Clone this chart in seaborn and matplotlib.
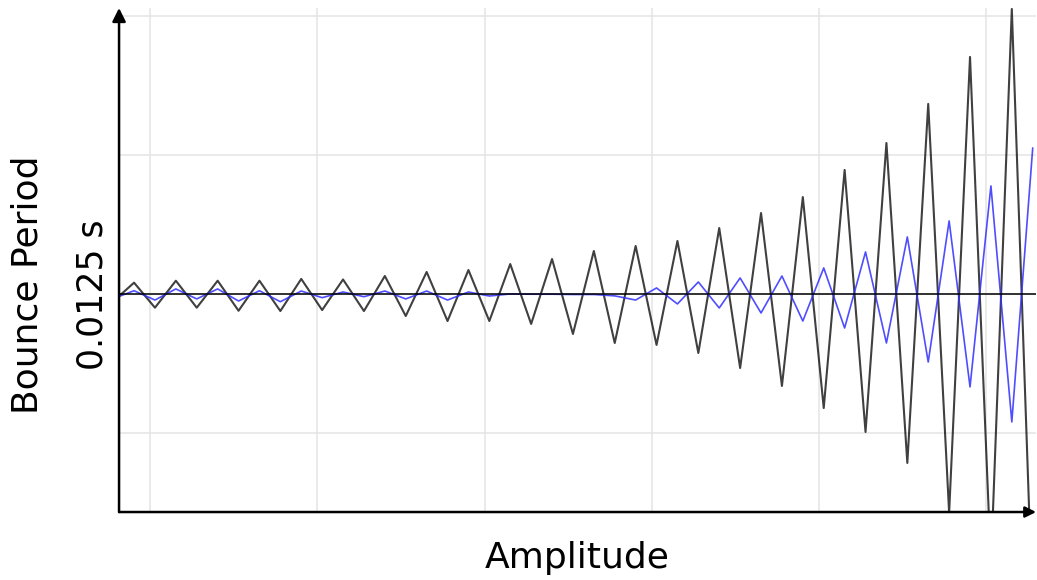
import numpy as np
import pandas as pd
import matplotlib
matplotlib.use("Agg")
import matplotlib.pyplot as plt
import seaborn as sns

# Turning points of the two oscillating traces (one value per half swing)
swing_index = list(range(-1, 44))
period_total = [
    -0.05, 0.085, -0.095, 0.099, -0.095, 0.099, -0.117, 0.099, -0.119, 0.112,
    -0.112, 0.108, -0.119, 0.133, -0.155, 0.162, -0.191, 0.176, -0.191, 0.219,
    -0.212, 0.255, -0.284, 0.313, -0.349, 0.349, -0.363, 0.385, -0.421, 0.478,
    -0.529, 0.586, -0.658, 0.701, -0.817, 0.896, -0.989, 1.090, -1.212, 1.371,
    -1.57, 1.709, -1.95, 2.054, -2.30,
]
period_corrected = [
    -0.03, 0.027, -0.040, 0.040, -0.032, 0.040, -0.047, 0.027, -0.052, 0.025,
    -0.023, 0.018, -0.016, 0.025, -0.032, 0.025, -0.040, 0.018, -0.011, 0.004,
    0.002, 0.002, 0.0, 0.0, -0.01, -0.04, 0.047, -0.068, 0.090, -0.097,
    0.119, -0.133, 0.133, -0.191, 0.191, -0.241, 0.306, -0.349, 0.414, -0.486,
    0.529, -0.665, 0.781, -0.917, 1.054,
]
reference_period = 0.0
y_tick_values = [-1, 0, 1, 2]
y_tick_labels = ["", "0.0125 s", "", ""]
x_label = "Amplitude"
y_label = "Bounce Period"

df = pd.DataFrame({
    "amplitude": swing_index + swing_index,
    "period": period_total + period_corrected,
    "trace": ["total"] * len(swing_index) + ["corrected"] * len(swing_index),
})

sns.set_theme(style="white")
plt.rcParams["font.family"] = ["DejaVu Sans"]
plt.rcParams["text.color"] = "black"
plt.rcParams["axes.labelcolor"] = "black"
plt.rcParams["ytick.color"] = "black"

fig = plt.figure(figsize=(10.37, 5.80), dpi=100)
ax = fig.add_axes([0.1148, 0.1172, 0.8843, 0.8690])

# light grid
grid_x = [0.77 + 8 * k for k in range(6)]
for gx in grid_x:
    ax.axvline(gx, color="#e4e4e4", lw=1.1, zorder=0)
for gy in y_tick_values:
    ax.axhline(gy, color="#e4e4e4", lw=1.1, zorder=0)

sns.lineplot(data=df[df.trace == "total"], x="amplitude", y="period",
             sort=False, color="black", alpha=0.75, lw=1.5, ax=ax, zorder=2)
sns.lineplot(data=df[df.trace == "corrected"], x="amplitude", y="period",
             sort=False, color="#2f2fff", alpha=0.85, lw=1.2, ax=ax, zorder=3)
ax.axhline(reference_period, color="black", lw=1.1, zorder=4)

ax.set_xlim(-0.718, 43.16)
ax.set_ylim(-1.565, 2.061)

for s in ax.spines.values():
    s.set_visible(False)

# axes drawn as arrows
arrow = dict(arrowstyle="-|>", color="black", lw=1.8, mutation_scale=20,
             shrinkA=0, shrinkB=0)
ax.annotate("", xy=(0, 1), xytext=(0, 0), xycoords="axes fraction",
            textcoords="axes fraction", arrowprops=arrow, annotation_clip=False)
ax.annotate("", xy=(1.0, 0), xytext=(0, 0), xycoords="axes fraction",
            textcoords="axes fraction",
            arrowprops=dict(arrow, mutation_scale=16), annotation_clip=False)

ax.set_xticks([])
ax.set_yticks(y_tick_values)
ax.set_yticklabels(y_tick_labels, rotation=90, va="center", fontsize=25)
ax.tick_params(axis="y", length=0, pad=7)

ax.set_xlabel(x_label, fontsize=26, labelpad=21)
ax.set_ylabel(y_label, fontsize=26)
ax.yaxis.set_label_coords(-0.081, 0.45)

fig.savefig("out.png", dpi=100)
